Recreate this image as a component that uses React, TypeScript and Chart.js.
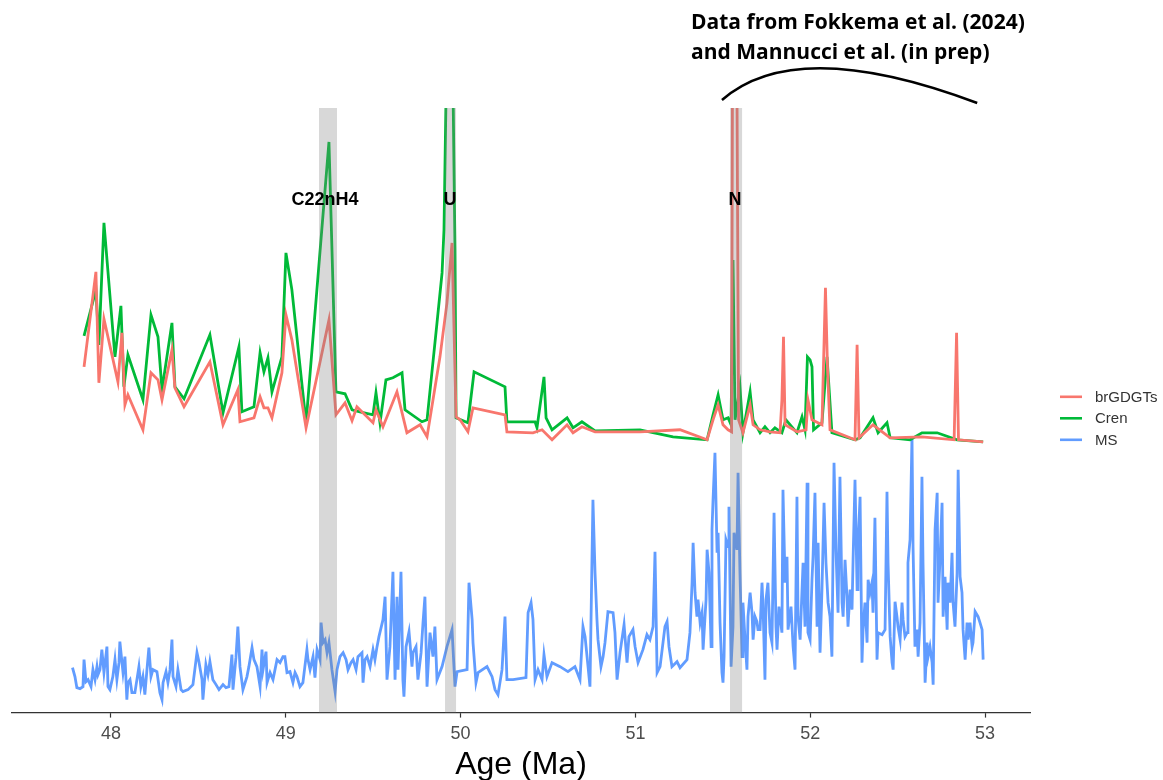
import React, { useEffect, useRef } from 'react';
import { Chart, registerables } from 'chart.js';

Chart.register(...registerables);

// ---- series colours (ggplot hue palette) ----
const RED = '#F8766D';
const GREEN = '#00BA38';
const BLUE = '#619CFF';

// ---- x axis ----
const AGE_MIN = 47.434;
const AGE_MAX = 53.257;
const AGE_TICKS = [48, 49, 50, 51, 52, 53];

// ---- event bands ----
const BAND_LABELS = ['C22nH4', 'U', 'N'];
const BAND_START = [49.19, 49.911, 51.541];
const BAND_END = [49.293, 49.974, 51.61];
const BAND_LABEL_AGE = [49.224, 49.94, 51.57];
const BAND_LABEL_LEVEL = 102.6;

// ---- legend ----
const SERIES_NAMES = ['brGDGTs', 'Cren', 'MS'];

// ---- brGDGTs (relative, stacked above MS) ----
const BR_AGE = [
  47.846, 47.914, 47.931, 47.96, 48.04, 48.063, 48.08, 48.097, 48.183, 48.229,
  48.269, 48.292, 48.349, 48.366, 48.418, 48.566, 48.641, 48.726, 48.738, 48.818,
  48.853, 48.875, 48.898, 48.921, 48.978, 49.001, 49.035, 49.116, 49.247, 49.287,
  49.339, 49.379, 49.407, 49.499, 49.516, 49.556, 49.636, 49.693, 49.768, 49.808,
  49.882, 49.922, 49.951, 49.974, 49.997, 50.042, 50.071, 50.254, 50.265, 50.414,
  50.466, 50.523, 50.609, 50.643, 50.694, 50.769, 51.026, 51.255, 51.41, 51.444,
  51.473, 51.501, 51.53, 51.55, 51.555, 51.581, 51.59, 51.615, 51.656, 51.673,
  51.713, 51.77, 51.827, 51.838, 51.847, 51.856, 51.924, 51.976, 51.987, 52.01,
  52.067, 52.087, 52.099, 52.113, 52.256, 52.268, 52.279, 52.359, 52.457, 52.639,
  52.823, 52.837, 52.848, 52.989,
];
const BR_VALUE = [
  69.2, 88.2, 66.0, 78.8, 66.2, 76.0, 61.6, 63.6, 56.6, 68.0,
  66.6, 62.6, 72.6, 65.0, 61.2, 70.2, 57.6, 64.6, 58.2, 59.0,
  63.2, 61.0, 61.0, 59.0, 68.0, 79.6, 74.6, 57.0, 78.6, 59.6,
  62.0, 58.4, 61.2, 58.0, 60.6, 57.2, 64.2, 56.0, 57.6, 55.2,
  71.2, 82.0, 94.0, 59.2, 58.6, 56.2, 61.0, 59.6, 56.2, 56.0,
  56.6, 54.6, 57.6, 56.0, 57.2, 56.2, 56.2, 56.6, 54.6, 58.6,
  61.6, 57.6, 56.6, 56.2, 124, 124, 58.6, 56.0, 61.6, 57.6,
  56.6, 56.2, 56.0, 62.6, 75.2, 57.6, 56.2, 56.6, 62.6, 58.6,
  57.6, 85.0, 68.6, 56.6, 54.6, 73.6, 55.0, 57.6, 55.0, 55.2,
  54.6, 76.0, 54.6, 54.2,
];

// ---- Cren (relative, stacked above MS) ----
const CREN_AGE = [
  47.846, 47.914, 47.931, 47.96, 48.023, 48.057, 48.074, 48.097, 48.183, 48.229,
  48.269, 48.292, 48.349, 48.366, 48.418, 48.566, 48.641, 48.732, 48.749, 48.818,
  48.853, 48.875, 48.898, 48.921, 48.978, 49.001, 49.035, 49.116, 49.247, 49.287,
  49.339, 49.379, 49.424, 49.499, 49.516, 49.539, 49.573, 49.613, 49.665, 49.682,
  49.779, 49.808, 49.865, 49.894, 49.905, 49.917, 49.957, 49.968, 49.974, 50.042,
  50.077, 50.254, 50.265, 50.426, 50.437, 50.477, 50.489, 50.523, 50.609, 50.643,
  50.694, 50.769, 51.026, 51.215, 51.41, 51.444, 51.473, 51.501, 51.53, 51.547,
  51.558, 51.57, 51.598, 51.615, 51.656, 51.673, 51.713, 51.741, 51.77, 51.798,
  51.838, 51.861, 51.924, 51.953, 51.97, 51.984, 51.999, 52.01, 52.019, 52.067,
  52.096, 52.124, 52.256, 52.285, 52.359, 52.388, 52.439, 52.457, 52.571, 52.639,
  52.726, 52.84, 52.989,
];
const CREN_VALUE = [
  75.4, 84.6, 73.6, 98.0, 71.2, 81.4, 65.2, 71.6, 62.6, 79.6,
  75.2, 64.6, 78.0, 65.2, 62.8, 75.6, 60.0, 73.2, 60.2, 61.2,
  72.0, 68.2, 71.0, 64.2, 71.2, 92.0, 84.6, 58.0, 114.2, 64.2,
  63.8, 60.6, 60.2, 59.6, 64.0, 58.0, 66.6, 67.0, 68.0, 60.6,
  58.2, 58.6, 78.0, 88.0, 96.6, 124, 124, 92.6, 59.0, 58.0,
  68.2, 65.2, 58.2, 58.2, 57.0, 67.2, 59.0, 56.6, 59.0, 57.0,
  58.2, 56.4, 56.6, 55.2, 54.6, 59.6, 63.6, 58.6, 59.0, 57.6,
  90.6, 58.6, 65.2, 56.0, 64.2, 58.6, 56.0, 57.2, 56.0, 57.0,
  56.0, 58.6, 56.0, 59.2, 56.6, 71.2, 70.6, 69.2, 56.6, 58.0,
  71.2, 56.0, 54.6, 55.0, 59.0, 56.0, 58.0, 55.0, 54.6, 56.0,
  56.0, 54.6, 54.2,
];

// ---- magnetic susceptibility (relative) ----
const MS_AGE = [
  47.78, 47.794, 47.805, 47.823, 47.84, 47.846, 47.857, 47.869, 47.886, 47.897,
  47.909, 47.92, 47.926, 47.937, 47.948, 47.96, 47.977, 47.983, 47.994, 48.011,
  48.023, 48.034, 48.046, 48.051, 48.069, 48.08, 48.091, 48.097, 48.109, 48.12,
  48.137, 48.16, 48.171, 48.183, 48.194, 48.206, 48.217, 48.229, 48.24, 48.263,
  48.28, 48.292, 48.298, 48.315, 48.326, 48.338, 48.349, 48.355, 48.372, 48.383,
  48.401, 48.412, 48.441, 48.469, 48.492, 48.503, 48.521, 48.526, 48.543, 48.555,
  48.566, 48.583, 48.601, 48.618, 48.641, 48.658, 48.675, 48.692, 48.698, 48.715,
  48.726, 48.738, 48.755, 48.778, 48.789, 48.807, 48.818, 48.835, 48.853, 48.864,
  48.87, 48.887, 48.893, 48.91, 48.927, 48.95, 48.967, 48.984, 48.995, 49.007,
  49.024, 49.041, 49.053, 49.064, 49.081, 49.098, 49.121, 49.127, 49.139, 49.156,
  49.167, 49.179, 49.196, 49.202, 49.213, 49.225, 49.236, 49.247, 49.264, 49.282,
  49.293, 49.31, 49.328, 49.345, 49.356, 49.373, 49.385, 49.402, 49.413, 49.436,
  49.442, 49.453, 49.465, 49.482, 49.499, 49.51, 49.522, 49.533, 49.556, 49.568,
  49.579, 49.596, 49.613, 49.625, 49.636, 49.642, 49.659, 49.67, 49.676, 49.688,
  49.705, 49.722, 49.728, 49.745, 49.756, 49.774, 49.785, 49.796, 49.808, 49.825,
  49.842, 49.853, 49.865, 49.894, 49.922, 49.951, 49.968, 49.98, 50.037, 50.048,
  50.066, 50.071, 50.088, 50.1, 50.151, 50.18, 50.197, 50.214, 50.237, 50.254,
  50.265, 50.3, 50.374, 50.386, 50.403, 50.414, 50.426, 50.443, 50.466, 50.477,
  50.494, 50.523, 50.569, 50.614, 50.654, 50.683, 50.7, 50.712, 50.729, 50.74,
  50.757, 50.769, 50.78, 50.786, 50.803, 50.815, 50.826, 50.843, 50.872, 50.883,
  50.895, 50.912, 50.935, 50.952, 50.963, 50.986, 50.998, 51.015, 51.043, 51.066,
  51.083, 51.101, 51.112, 51.124, 51.141, 51.169, 51.181, 51.192, 51.209, 51.238,
  51.255, 51.295, 51.312, 51.324, 51.33, 51.341, 51.352, 51.358, 51.37, 51.381,
  51.387, 51.404, 51.41, 51.421, 51.433, 51.438, 51.444, 51.455, 51.467, 51.473,
  51.484, 51.495, 51.501, 51.507, 51.518, 51.53, 51.535, 51.547, 51.558, 51.564,
  51.581, 51.587, 51.598, 51.61, 51.615, 51.627, 51.638, 51.644, 51.656, 51.667,
  51.673, 51.684, 51.695, 51.701, 51.713, 51.724, 51.73, 51.741, 51.747, 51.758,
  51.77, 51.781, 51.793, 51.804, 51.81, 51.821, 51.838, 51.844, 51.856, 51.867,
  51.873, 51.89, 51.902, 51.913, 51.924, 51.93, 51.942, 51.953, 51.959, 51.97,
  51.982, 51.987, 51.999, 52.01, 52.016, 52.027, 52.039, 52.045, 52.056, 52.067,
  52.079, 52.09, 52.102, 52.113, 52.124, 52.136, 52.147, 52.159, 52.17, 52.182,
  52.188, 52.199, 52.21, 52.216, 52.228, 52.239, 52.245, 52.256, 52.268, 52.273,
  52.285, 52.296, 52.302, 52.313, 52.325, 52.331, 52.342, 52.353, 52.359, 52.37,
  52.382, 52.388, 52.411, 52.428, 52.439, 52.445, 52.457, 52.468, 52.474, 52.485,
  52.496, 52.502, 52.514, 52.525, 52.531, 52.542, 52.554, 52.559, 52.571, 52.582,
  52.588, 52.599, 52.611, 52.617, 52.628, 52.639, 52.645, 52.657, 52.668, 52.674,
  52.685, 52.697, 52.703, 52.714, 52.726, 52.731, 52.743, 52.754, 52.76, 52.771,
  52.783, 52.788, 52.8, 52.811, 52.817, 52.828, 52.84, 52.846, 52.857, 52.868,
  52.874, 52.886, 52.897, 52.903, 52.914, 52.926, 52.931, 52.943, 52.96, 52.971,
  52.983, 52.989,
];
const MS_VALUE = [
  9.0, 7.2, 5.0, 4.8, 5.2, 10.6, 6.2, 6.6, 5.2, 8.6,
  6.6, 9.2, 7.6, 8.6, 12.6, 8.0, 13.2, 5.2, 4.6, 7.2,
  10.6, 6.6, 10.0, 14.2, 8.0, 11.2, 2.6, 6.0, 6.6, 4.0,
  4.0, 9.2, 5.2, 7.2, 3.6, 8.6, 13.0, 7.2, 8.6, 8.2,
  4.0, 2.6, 6.0, 8.2, 6.0, 8.6, 14.6, 7.2, 5.2, 8.6,
  4.6, 4.2, 4.6, 5.6, 12.0, 10.2, 6.6, 2.6, 9.6, 7.6,
  10.2, 6.6, 5.6, 4.6, 5.6, 5.0, 5.2, 11.6, 4.6, 11.0,
  17.2, 9.2, 4.6, 7.2, 9.2, 13.0, 10.6, 9.2, 5.2, 12.6,
  8.6, 12.2, 6.0, 8.0, 6.6, 10.6, 10.0, 11.2, 11.2, 8.0,
  8.2, 6.0, 8.0, 7.2, 5.2, 6.0, 12.6, 10.6, 8.6, 11.2,
  7.0, 12.6, 10.6, 18.0, 14.0, 14.6, 12.0, 14.0, 8.6, 4.2,
  8.6, 11.2, 12.0, 10.6, 8.6, 10.0, 10.6, 8.6, 11.2, 12.0,
  6.0, 10.6, 11.2, 9.2, 12.6, 10.6, 13.2, 15.2, 18.6, 23.2,
  6.6, 13.2, 28.2, 6.6, 23.2, 8.6, 28.2, 6.6, 3.2, 13.2,
  16.2, 9.2, 12.0, 13.2, 6.6, 12.0, 18.0, 23.2, 5.2, 16.0,
  11.2, 17.2, 6.6, 9.2, 13.2, 16.6, 5.2, 8.2, 8.6, 26.0,
  18.6, 14.0, 6.0, 8.0, 9.2, 7.2, 4.6, 3.6, 8.6, 19.2,
  6.6, 6.6, 7.0, 20.0, 22.0, 18.6, 6.6, 8.6, 6.6, 11.6,
  7.2, 10.0, 9.2, 8.2, 9.2, 6.6, 17.2, 15.2, 9.2, 5.2,
  42.6, 28.0, 18.6, 14.6, 9.2, 11.2, 14.0, 20.2, 20.0, 16.0,
  6.6, 12.0, 17.6, 10.0, 15.2, 16.6, 13.2, 10.0, 12.6, 15.6,
  14.6, 17.2, 32.2, 8.0, 9.2, 17.2, 18.2, 13.2, 9.2, 10.2,
  9.0, 10.6, 16.0, 26.0, 34.0, 24.0, 19.2, 22.6, 18.0, 20.0,
  12.6, 22.6, 32.6, 28.0, 13.2, 36.6, 42.6, 52.0, 32.0, 36.0,
  18.0, 8.0, 6.0, 11.2, 34.6, 33.2, 41.2, 9.2, 17.2, 36.0,
  32.6, 48.0, 28.0, 11.2, 22.0, 14.6, 8.6, 19.2, 24.0, 20.0,
  14.6, 19.2, 18.2, 16.6, 16.6, 26.0, 21.2, 6.6, 22.6, 26.0,
  16.0, 14.0, 40.0, 17.2, 12.6, 21.2, 16.0, 44.6, 26.0, 31.2,
  16.6, 21.2, 13.2, 8.6, 43.2, 19.2, 14.6, 24.6, 30.0, 17.2,
  46.0, 16.0, 14.6, 26.6, 31.2, 44.0, 17.2, 34.0, 12.0, 24.6,
  42.0, 30.0, 22.0, 19.2, 11.2, 50.0, 32.6, 20.0, 47.2, 22.0,
  19.2, 30.6, 23.2, 17.2, 24.6, 20.6, 30.6, 46.6, 24.6, 33.2,
  43.2, 10.0, 16.6, 22.0, 14.0, 26.6, 24.0, 26.0, 20.0, 39.0,
  10.6, 16.0, 15.6, 16.6, 44.2, 30.0, 15.2, 10.0, 8.6, 22.2,
  19.2, 17.2, 14.6, 22.0, 18.6, 15.2, 16.0, 30.0, 34.6, 55.2,
  33.2, 13.2, 16.6, 11.2, 18.0, 47.2, 30.0, 6.0, 14.0, 11.2,
  13.2, 10.0, 5.6, 36.6, 44.0, 22.0, 31.2, 42.0, 19.2, 27.2,
  16.6, 26.0, 22.0, 32.0, 22.0, 17.2, 28.0, 48.6, 27.2, 24.0,
  16.6, 10.6, 18.0, 14.6, 18.0, 13.2, 14.0, 20.2, 19.2, 18.0,
  16.6, 10.6,
];

// ---- source note above the plot ----
const NOTE_LINES = ['Data from Fokkema et al. (2024)', 'and Mannucci et al. (in prep)'];
const NOTE_AGE = 51.318;
const BRACE_AGES = [51.495, 51.92, 52.955];

const toPoints = (ages: number[], values: number[]) =>
  ages.map((a, i) => ({ x: a, y: values[i] }));

// Grey shading over the event intervals, then their names.
const eventBandsPlugin = {
  id: 'eventBands',
  afterDatasetsDraw(chart: any) {
    const { ctx, chartArea, scales } = chart;
    const x = scales.x;
    const y = scales.y;
    ctx.save();
    ctx.fillStyle = 'rgba(127,127,127,0.3)';
    BAND_START.forEach((s, i) => {
      const x0 = x.getPixelForValue(s);
      const x1 = x.getPixelForValue(BAND_END[i]);
      ctx.fillRect(x0, chartArea.top, x1 - x0, chartArea.bottom - chartArea.top);
    });
    ctx.fillStyle = '#000000';
    ctx.font = 'bold 18px "Liberation Sans", Arial, sans-serif';
    ctx.textAlign = 'center';
    ctx.textBaseline = 'middle';
    BAND_LABELS.forEach((label, i) => {
      ctx.fillText(label, x.getPixelForValue(BAND_LABEL_AGE[i]), y.getPixelForValue(BAND_LABEL_LEVEL));
    });
    ctx.restore();
  },
};

// Legend on the right and the source note with its brace.
const decorPlugin = {
  id: 'decor',
  afterDraw(chart: any) {
    const { ctx, chartArea, scales } = chart;
    const x = scales.x;
    ctx.save();

    // legend
    const colors = [RED, GREEN, BLUE];
    const midY = (chartArea.top + chartArea.bottom) / 2 + 8;
    const lx = chartArea.right + 30;
    ctx.font = '15px "Liberation Sans", Arial, sans-serif';
    ctx.textAlign = 'left';
    ctx.textBaseline = 'middle';
    SERIES_NAMES.forEach((name, i) => {
      const yy = midY + (i - 1) * 21.5;
      ctx.strokeStyle = colors[i];
      ctx.lineWidth = 2.6;
      ctx.beginPath();
      ctx.moveTo(lx, yy);
      ctx.lineTo(lx + 22, yy);
      ctx.stroke();
      ctx.fillStyle = '#333333';
      ctx.fillText(name, lx + 35, yy + 1);
    });

    // source note
    ctx.fillStyle = '#000000';
    ctx.font = 'bold 21px "Open Sans", "Liberation Sans", sans-serif';
    const tx = x.getPixelForValue(NOTE_AGE);
    ctx.fillText(NOTE_LINES[0], tx, chartArea.top - 85);
    ctx.fillText(NOTE_LINES[1], tx, chartArea.top - 55);

    // brace
    const bx0 = x.getPixelForValue(BRACE_AGES[0]);
    const bxc = x.getPixelForValue(BRACE_AGES[1]);
    const bx1 = x.getPixelForValue(BRACE_AGES[2]);
    ctx.strokeStyle = '#000000';
    ctx.lineWidth = 2.5;
    ctx.beginPath();
    ctx.moveTo(bx0, chartArea.top - 8);
    ctx.quadraticCurveTo(bxc, chartArea.top - 73, bx1, chartArea.top - 5);
    ctx.stroke();

    ctx.restore();
  },
};

export default function App() {
  const canvasRef = useRef<HTMLCanvasElement | null>(null);

  useEffect(() => {
    document.body.style.margin = '0';
    const canvas = canvasRef.current;
    if (!canvas) return;

    Chart.defaults.font.family = '"Liberation Sans", Arial, sans-serif';

    const line = (label: string, color: string, ages: number[], values: number[]) => ({
      label,
      data: toPoints(ages, values),
      borderColor: color,
      backgroundColor: color,
      borderWidth: 2.8,
      pointRadius: 0,
      tension: 0,
      clip: 0,
    });

    const chart = new Chart(canvas, {
      type: 'line',
      data: {
        datasets: [
          line(SERIES_NAMES[0], RED, BR_AGE, BR_VALUE),
          line(SERIES_NAMES[1], GREEN, CREN_AGE, CREN_VALUE),
          line(SERIES_NAMES[2], BLUE, MS_AGE, MS_VALUE),
        ],
      },
      options: {
        animation: false,
        responsive: false,
        maintainAspectRatio: false,
        parsing: false,
        layout: { padding: { left: 12, right: 133, top: 108, bottom: 0 } },
        plugins: {
          legend: { display: false },
          tooltip: { enabled: false },
        },
        scales: {
          x: {
            type: 'linear',
            min: AGE_MIN,
            max: AGE_MAX,
            afterBuildTicks: (scale: any) => {
              scale.ticks = AGE_TICKS.map((v) => ({ value: v }));
            },
            ticks: {
              color: '#4D4D4D',
              font: { size: 18 },
              padding: 6,
              maxRotation: 0,
              callback: (v: any) => String(v),
            },
            grid: {
              display: true,
              drawOnChartArea: false,
              drawTicks: true,
              tickLength: 5,
              tickColor: '#333333',
              tickWidth: 1.2,
            },
            border: { display: true, color: '#333333', width: 1.2 },
            title: {
              display: true,
              text: 'Age (Ma)',
              color: '#000000',
              font: { size: 32, lineHeight: 0.9 },
              padding: { top: 0, bottom: 0 },
            },
          },
          y: { type: 'linear', display: false, min: 0, max: 121 },
        },
      },
      plugins: [eventBandsPlugin, decorPlugin],
    } as any);

    return () => chart.destroy();
  }, []);

  return (
    <div style={{ width: 1163, height: 780, position: 'relative' }}>
      <canvas ref={canvasRef} width={1163} height={780} />
    </div>
  );
}
